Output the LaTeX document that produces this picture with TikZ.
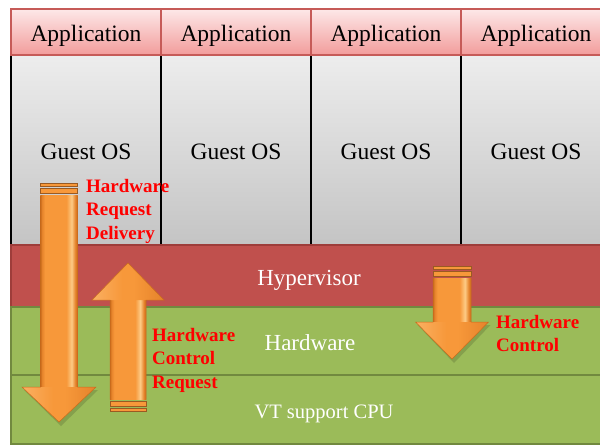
\documentclass[tikz,border=0pt]{standalone}
\usepackage{fontspec}
\setmainfont{Liberation Serif}

% layer colours
\definecolor{apptop}{HTML}{FDE8E8}
\definecolor{appbot}{HTML}{F29C9B}
\definecolor{appedge}{HTML}{C65B58}
\definecolor{ostop}{HTML}{EDEDED}
\definecolor{osbot}{HTML}{C4C4C4}
\definecolor{hypred}{HTML}{C0504D}
\definecolor{hypedge}{HTML}{9E3D3A}
\definecolor{hwgreen}{HTML}{9BBB59}
\definecolor{hwedge}{HTML}{71893F}
\definecolor{lblred}{HTML}{FF0000}
% arrow colours
\definecolor{arrEdge}{HTML}{C96B1C}
\definecolor{arrLite}{HTML}{FAB062}
\definecolor{arrMain}{HTML}{F7983A}
\definecolor{arrHi}{HTML}{FDCB86}
\definecolor{arrDeep}{HTML}{E5832B}
\definecolor{arrStripe}{HTML}{9A5A22}

\pgfdeclarehorizontalshading{shaftshade}{100bp}{%
  color(0bp)=(arrEdge); color(25bp)=(arrEdge); color(27bp)=(arrDeep);
  color(31bp)=(arrMain); color(60bp)=(arrMain); color(67bp)=(arrHi);
  color(72bp)=(arrDeep); color(75bp)=(arrEdge); color(100bp)=(arrEdge)}
\pgfdeclarehorizontalshading{headshade}{100bp}{%
  color(0bp)=(arrLite); color(25bp)=(arrLite); color(46bp)=(arrMain);
  color(54bp)=(arrMain); color(75bp)=(arrDeep); color(100bp)=(arrDeep)}

\tikzset{
  appcell/.style={draw=appedge, line width=1.2pt, top color=apptop, bottom color=appbot},
  oscell/.style={draw=black, line width=1.2pt, top color=ostop, bottom color=osbot},
  hyplayer/.style={fill=hypred, draw=hypedge, line width=1.5pt},
  hwlayer/.style={fill=hwgreen, draw=hwedge, line width=2pt},
  bigtext/.style={anchor=base, inner sep=0pt, font=\fontsize{23.5}{28}\selectfont},
  whitetext/.style={anchor=base, inner sep=0pt, text=white, font=\fontsize{23}{28}\selectfont},
  vttext/.style={anchor=base, inner sep=0pt, text=white, font=\fontsize{20.5}{24}\selectfont},
  redlabel/.style={text=lblred, anchor=north west, inner sep=0pt, align=left,
    font=\fontsize{19}{23.5}\selectfont\bfseries},
  shaftfill/.style={shading=shaftshade},
  headfill/.style={shading=headshade},
  arrowline/.style={draw=arrEdge, line width=0.5pt},
  stripefill/.style={fill=arrMain, draw=arrStripe, line width=0.6pt},
  headshadow/.style={fill=black, opacity=0.14}
}

% down arrow: #1 centre x, #2 tail y, #3 shaft half width,
% #4 head half width, #5 head start y, #6 tip y
\newcommand{\orangedown}[6]{%
  \path[stripefill] ({#1-#3},{#2}) rectangle ({#1+#3},{#2+3});
  \path[stripefill] ({#1-#3},{#2+5}) rectangle ({#1+#3},{#2+10});
  \path[headshadow] ({#1-#4+2},{#5+3}) -- ({#1+#4+2},{#5+3}) -- ({#1+2},{#6+4}) -- cycle;
  \path[shaftfill] ({#1-#3},{#2+12}) rectangle ({#1+#3},{#5+1});
  \path[headfill] ({#1-#4},{#5}) -- ({#1+#4},{#5}) -- ({#1},{#6}) -- cycle;
  \draw[arrowline] ({#1-#3},{#2+12}) -- ({#1-#3},{#5}) -- ({#1-#4},{#5})
    -- ({#1},{#6}) -- ({#1+#4},{#5}) -- ({#1+#3},{#5}) -- ({#1+#3},{#2+12});
}
% up arrow: #1 centre x, #2 tail y, #3 shaft half width,
% #4 head half width, #5 head base y, #6 tip y
\newcommand{\orangeup}[6]{%
  \path[stripefill] ({#1-#3},{#2}) rectangle ({#1+#3},{#2-3});
  \path[stripefill] ({#1-#3},{#2-5}) rectangle ({#1+#3},{#2-10});
  \path[shaftfill] ({#1-#3},{#2-12}) rectangle ({#1+#3},{#5-1});
  \path[headfill] ({#1-#4},{#5}) -- ({#1+#4},{#5}) -- ({#1},{#6}) -- cycle;
  \draw[arrowline] ({#1-#3},{#2-12}) -- ({#1-#3},{#5}) -- ({#1-#4},{#5})
    -- ({#1},{#6}) -- ({#1+#4},{#5}) -- ({#1+#3},{#5}) -- ({#1+#3},{#2-12});
}

\begin{document}
\begin{tikzpicture}[x=1pt, y=-1pt]
  \useasboundingbox (0,0) rectangle (600,445);
  \clip (0,0) rectangle (600,445);

  % guest columns: application header above guest OS
  \foreach \i in {0,1,2,3} {
    \pgfmathsetmacro{\xl}{11+150*\i}
    \pgfmathsetmacro{\xr}{161+150*\i}
    \pgfmathsetmacro{\xc}{86+150*\i}
    \path[oscell] (\xl,55) rectangle (\xr,245);
    \path[appcell] (\xl,9) rectangle (\xr,55);
    \node[bigtext] (app\i) at (\xc,41) {Application};
    \node[bigtext] (os\i) at (\xc,159) {Guest OS};
  }

  % shared layers
  \path[hyplayer] (11,245) rectangle (620,307);
  \node[whitetext] (hyp) at (309,285) {Hypervisor};
  \path[hwlayer] (11,307) rectangle (620,375);
  \node[whitetext] (hw) at (310,350) {Hardware};
  \path[hwlayer] (11,375) rectangle (620,444);
  \node[vttext] (vt) at (324,418) {VT support CPU};

  % request paths
  \orangedown{59}{183}{18.5}{37}{387}{422}
  \orangeup{128}{411.5}{18}{36}{300}{263}
  \orangedown{452}{266}{19}{36.5}{322}{359}

  \node[redlabel] (delivery) at (86,179) {Hardware\\Request\\Delivery};
  \node[redlabel] (ctrlreq) at (152,328) {Hardware\\Control\\Request};
  \node[redlabel] (ctrl) at (496,315) {Hardware\\Control};
\end{tikzpicture}
\end{document}
